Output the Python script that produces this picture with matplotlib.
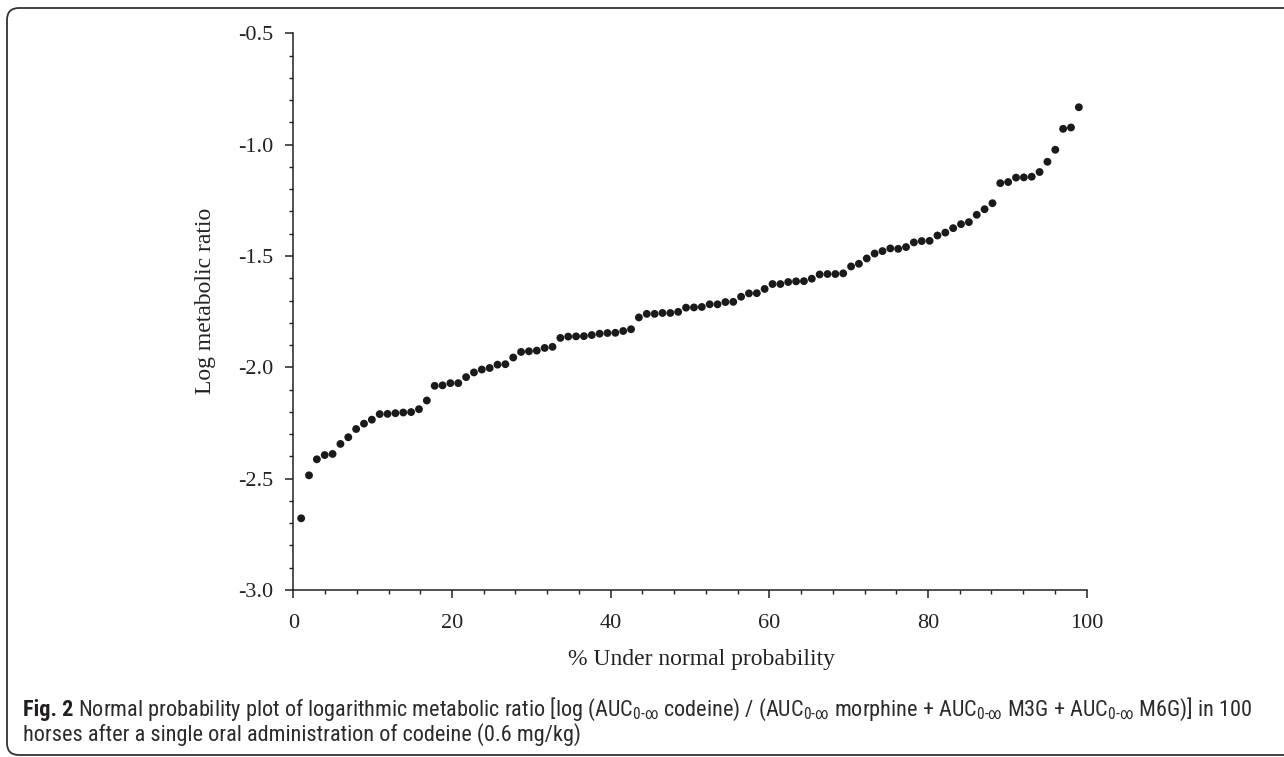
import matplotlib
matplotlib.use("Agg")
import matplotlib.pyplot as plt
from matplotlib.patches import FancyBboxPatch
from matplotlib.ticker import MultipleLocator
from matplotlib import font_manager

# ---- data ----
percent_under = [
    0.99, 1.98, 2.97, 3.96, 4.95, 5.94, 6.93, 7.92, 8.91, 9.90,
    10.89, 11.88, 12.87, 13.86, 14.85, 15.84, 16.83, 17.82, 18.81, 19.80,
    20.79, 21.78, 22.77, 23.76, 24.75, 25.74, 26.73, 27.72, 28.71, 29.70,
    30.69, 31.68, 32.67, 33.66, 34.65, 35.64, 36.63, 37.62, 38.61, 39.60,
    40.59, 41.58, 42.57, 43.56, 44.55, 45.54, 46.53, 47.52, 48.51, 49.50,
    50.50, 51.49, 52.48, 53.47, 54.46, 55.45, 56.44, 57.43, 58.42, 59.41,
    60.40, 61.39, 62.38, 63.37, 64.36, 65.35, 66.34, 67.33, 68.32, 69.31,
    70.30, 71.29, 72.28, 73.27, 74.26, 75.25, 76.24, 77.23, 78.22, 79.21,
    80.20, 81.19, 82.18, 83.17, 84.16, 85.15, 86.14, 87.13, 88.12, 89.11,
    90.10, 91.09, 92.08, 93.07, 94.06, 95.05, 96.04, 97.03, 98.02, 99.01,
]
log_ratio = [
    -2.678, -2.485, -2.413, -2.394, -2.389, -2.344, -2.314, -2.277, -2.253, -2.235,
    -2.210, -2.209, -2.206, -2.203, -2.201, -2.188, -2.149, -2.083, -2.081, -2.071,
    -2.071, -2.044, -2.023, -2.010, -2.003, -1.988, -1.986, -1.956, -1.931, -1.928,
    -1.925, -1.913, -1.908, -1.868, -1.862, -1.861, -1.860, -1.855, -1.849, -1.846,
    -1.845, -1.837, -1.829, -1.776, -1.760, -1.760, -1.756, -1.756, -1.751, -1.732,
    -1.731, -1.729, -1.717, -1.717, -1.707, -1.706, -1.683, -1.668, -1.667, -1.648,
    -1.626, -1.626, -1.617, -1.614, -1.613, -1.602, -1.583, -1.581, -1.581, -1.578,
    -1.547, -1.535, -1.511, -1.489, -1.478, -1.466, -1.468, -1.460, -1.439, -1.433,
    -1.432, -1.408, -1.395, -1.375, -1.357, -1.348, -1.315, -1.290, -1.263, -1.173,
    -1.168, -1.148, -1.147, -1.144, -1.123, -1.077, -1.023, -0.929, -0.923, -0.832,
]
x_ticks = [0, 20, 40, 60, 80, 100]
y_ticks = [-3.0, -2.5, -2.0, -1.5, -1.0, -0.5]
x_label = "% Under normal probability"
y_label = "Log metabolic ratio"

serif = ["Liberation Serif", "DejaVu Serif"]
cap_font = "Roboto"
for cand in ["Roboto Condensed", "Liberation Sans Narrow", "Roboto"]:
    try:
        font_manager.findfont(font_manager.FontProperties(family=cand), fallback_to_default=False)
        cap_font = cand
        break
    except Exception:
        pass
cap_family = [cap_font, "DejaVu Sans"]

plt.rcParams["mathtext.fontset"] = "custom"
plt.rcParams["mathtext.rm"] = cap_font
plt.rcParams["mathtext.it"] = cap_font + ":italic"
plt.rcParams["mathtext.bf"] = cap_font + ":bold"

W, H = 1284, 757
fig = plt.figure(figsize=(W / 100, H / 100), dpi=100)

left, right, top, bottom = 293.3, 1086.7, 33.3, 590.0
ax = fig.add_axes([left / W, 1 - bottom / H, (right - left) / W, (bottom - top) / H])

ax.scatter(percent_under, log_ratio, s=32, color="#1a1a1a", edgecolors="none",
           zorder=3, clip_on=False)

ax.set_xlim(0, 100)
ax.set_ylim(-3.0, -0.5)
ax.set_xticks(x_ticks)
ax.set_yticks(y_ticks)
ax.xaxis.set_minor_locator(MultipleLocator(4))
ax.yaxis.set_minor_locator(MultipleLocator(0.1))
ax.set_xticklabels([str(v) for v in x_ticks], fontfamily=serif, fontsize=16)
ax.set_yticklabels([f"{v:.1f}" for v in y_ticks], fontfamily=serif, fontsize=16)

for s in ["top", "right"]:
    ax.spines[s].set_visible(False)
for s in ["left", "bottom"]:
    ax.spines[s].set_linewidth(1.1)
    ax.spines[s].set_color("#222222")

ax.tick_params(axis="x", which="major", pad=12)
ax.tick_params(axis="y", which="major", pad=9)
ax.tick_params(which="major", direction="out", length=5.5, width=1.1, color="#222222",
               labelcolor="#222222")
ax.tick_params(which="minor", direction="out", length=3.2, width=1.0, color="#222222")

fig.text(702 / W, 1 - 659 / H, x_label, ha="center", va="center",
         fontfamily=serif, fontsize=17, color="#222222")
fig.text(205 / W, 1 - 301 / H, y_label, ha="center", va="center", rotation=90,
         fontfamily=serif, fontsize=17, color="#222222")

# caption
sub = r"$_{\mathrm{0}\text{-}\infty}$"
line1_rest = (" Normal probability plot of logarithmic metabolic ratio [log (AUC" + sub +
              " codeine) / (AUC" + sub + " morphine + AUC" + sub + " M3G + AUC" + sub +
              " M6G)] in 100")
line2 = "horses after a single oral administration of codeine (0.6 mg/kg)"

x0, base1, base2 = 23, 716.0, 741.0
target_right = 1252
fs = 15.5
renderer = fig.canvas.get_renderer()
for _ in range(3):
    t_fig = fig.text(x0 / W, 1 - base1 / H, "Fig. 2", ha="left", va="baseline",
                     fontfamily=cap_family, fontweight="bold", fontsize=fs, color="#231f20")
    bb = t_fig.get_window_extent(renderer)
    t_rest = fig.text(bb.x1 / W, 1 - base1 / H, line1_rest, ha="left", va="baseline",
                      fontfamily=cap_family, fontsize=fs, color="#231f20")
    bb2 = t_rest.get_window_extent(renderer)
    width = bb2.x1 - x0
    t_fig.remove()
    t_rest.remove()
    fs = fs * (target_right - x0) / width

t_fig = fig.text(x0 / W, 1 - base1 / H, "Fig. 2", ha="left", va="baseline",
                 fontfamily=cap_family, fontweight="bold", fontsize=fs, color="#231f20")
bb = t_fig.get_window_extent(renderer)
fig.text(bb.x1 / W, 1 - base1 / H, line1_rest, ha="left", va="baseline",
         fontfamily=cap_family, fontsize=fs, color="#2b2b2b")
fig.text(x0 / W, 1 - base2 / H, line2, ha="left", va="baseline",
         fontfamily=cap_family, fontsize=fs, color="#2b2b2b")

# border (open on the right)
box = FancyBboxPatch((7, H - 755), W + 40, 747, boxstyle="round,pad=0,rounding_size=12",
                     transform=None, fill=False, linewidth=1.3, edgecolor="#333333",
                     clip_on=False)
fig.patches.append(box)

fig.savefig("out.png", dpi=100)
